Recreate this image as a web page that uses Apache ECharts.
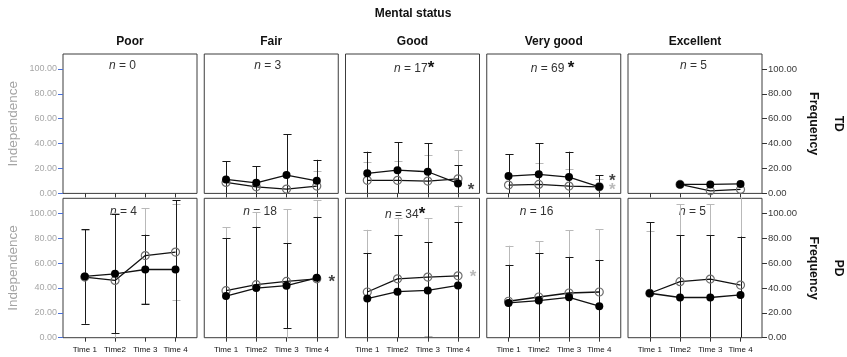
<!DOCTYPE html>
<html>
<head>
<meta charset="utf-8">
<script src="https://cdn.jsdelivr.net/npm/echarts@6/dist/echarts.min.js"></script>
<style>
  html, body { margin: 0; padding: 0; background: #fff; }
  #chart { width: 847px; height: 357px; }
</style>
</head>
<body>
<div id="chart"></div>
<script>
// ---- data ----
const statuses = ['Poor', 'Fair', 'Good', 'Very good', 'Excellent'];
const groups = ['TD', 'PD'];
const timeLabels = ['Time 1', 'Time2', 'Time 3', 'Time 4'];
const yTicks = [0, 20, 40, 60, 80, 100];

const tdCounts = [0, 3, 17, 69, 5];
const pdCounts = [4, 18, 34, 16, 5];
const tdCountStar = [false, false, true, true, false];
const pdCountStar = [false, false, true, false, false];

// TD group: means and error half-widths per mental status, Time 1..4
const tdIndependence = [
  [null, null, null, null],
  [8.8, 5.3, 3.5, 5.9],
  [10.5, 10.5, 9.9, 11.7],
  [6.7, 7.2, 5.9, 5.3],
  [null, 7.2, 2.1, 3.2]
];
const tdIndependenceErr = [
  [null, null, null, null],
  [17.2, 16.4, 44.2, 12.3],
  [14.7, 15.7, 20.7, 23.1],
  [24.7, 16.9, 13.4, 6.2],
  [null, null, null, null]
];
const tdFrequency = [
  [null, null, null, null],
  [11.2, 8.5, 14.7, 10.1],
  [16.1, 18.7, 17.4, 8.0],
  [13.9, 15.3, 13.1, 5.3],
  [null, 7.2, 7.2, 7.6]
];
const tdFrequencyErr = [
  [null, null, null, null],
  [14.8, 13.2, 33.0, 16.9],
  [17.4, 22.6, 23.1, 14.8],
  [17.5, 24.9, 20.4, 9.4],
  [null, null, null, null]
];

// PD group
const pdIndependence = [
  [48.7, 46.0, 66.0, 68.8],
  [37.8, 42.6, 45.2, 47.3],
  [36.7, 47.3, 48.7, 49.7],
  [29.3, 32.7, 35.9, 36.7],
  [35.7, 45.0, 47.1, 42.3]
];
const pdIndependenceErr = [
  [37.5, 54.0, 38.0, 38.8],
  [50.8, 58.4, 58.0, 63.1],
  [50.0, 49.2, 47.3, 56.4],
  [44.6, 44.7, 50.3, 50.3],
  [50.3, 62.1, 60.0, 70.0]
];
const pdFrequency = [
  [49.2, 51.3, 54.8, 54.8],
  [33.5, 39.9, 41.8, 48.1],
  [31.4, 37.0, 38.0, 42.0],
  [27.9, 29.8, 32.4, 25.3],
  [35.7, 32.3, 32.3, 34.4]
];
const pdFrequencyErr = [
  [38.0, 47.8, 28.0, 55.8],
  [46.6, 49.2, 34.2, 49.0],
  [36.7, 45.2, 38.6, 50.8],
  [30.6, 38.0, 32.5, 37.2],
  [56.9, 50.2, 50.2, 46.8]
];

// significance markers next to Time 4 (level on the value axis)
const tdFrequencyStar = [null, null, 6, 13, null];
const tdIndependenceStar = [null, null, null, 5.5, null];
const pdFrequencyStar = [null, 48, null, null, null];
const pdIndependenceStar = [null, null, 52, null, null];

// ---- layout ----
const FONT = 'Arial, "Liberation Sans", sans-serif';
const GRID_LEFT = 63, GRID_PITCH = 141.25, GRID_W = 134, GRID_H = 139.4;
const ROW_TOP = [54, 198.3];
const Y_MAX = 112;
const X_MIN = -0.72, X_MAX = 3.71;
const COUNT_X = [[46, 50, 48.5, 44, 52], [47, 39, 39.5, 33, 51]];
const COUNT_Y = [66, 212];
const STAR_DX = [13, 15];

const rows = [
  { ind: tdIndependence, indErr: tdIndependenceErr, frq: tdFrequency, frqErr: tdFrequencyErr,
    counts: tdCounts, countStar: tdCountStar, frqStar: tdFrequencyStar, indStar: tdIndependenceStar },
  { ind: pdIndependence, indErr: pdIndependenceErr, frq: pdFrequency, frqErr: pdFrequencyErr,
    counts: pdCounts, countStar: pdCountStar, frqStar: pdFrequencyStar, indStar: pdIndependenceStar }
];

const GRAY_BAR = '#b9b9b9';
const BLACK_BAR = '#1a1a1a';

function errorData(means, errs) {
  const out = [];
  means.forEach((m, t) => {
    if (m != null && errs[t] != null) out.push([t, m - errs[t], m + errs[t]]);
  });
  return out;
}
function lineData(means) {
  const out = [];
  means.forEach((m, t) => { if (m != null) out.push([t, m]); });
  return out;
}

function errorBarRenderer(color) {
  return function (params, api) {
    const x = api.value(0), lo = api.value(1), hi = api.value(2);
    const cs = params.coordSys;
    const top = cs.y, bottom = cs.y + cs.height;
    const pHi = api.coord([x, hi]);
    const pLo = api.coord([x, lo]);
    const px = Math.round(pHi[0]) + 0.5;
    const y1 = Math.max(pHi[1], top), y2 = Math.min(pLo[1], bottom);
    const style = { stroke: color, lineWidth: 1 };
    const children = [{ type: 'line', shape: { x1: px, y1: y1, x2: px, y2: y2 }, style: style }];
    const half = 4;
    if (pHi[1] >= top) {
      const cy = Math.round(pHi[1]) + 0.5;
      children.push({ type: 'line', shape: { x1: px - half, y1: cy, x2: px + half, y2: cy }, style: style });
    }
    if (pLo[1] <= bottom) {
      const cy = Math.round(pLo[1]) + 0.5;
      children.push({ type: 'line', shape: { x1: px - half, y1: cy, x2: px + half, y2: cy }, style: style });
    }
    return { type: 'group', children: children };
  };
}

const grids = [], xAxes = [], yAxes = [], series = [], graphics = [];

rows.forEach((row, r) => {
  statuses.forEach((status, c) => {
    const idx = r * statuses.length + c;
    const left = GRID_LEFT + c * GRID_PITCH;
    grids.push({
      left: left, top: ROW_TOP[r], width: GRID_W, height: GRID_H,
      show: true, borderColor: '#3c3c3c', borderWidth: 1, backgroundColor: '#fff',
      containLabel: false, outerBoundsMode: 'none'
    });
    xAxes.push({
      type: 'value', gridIndex: idx, min: X_MIN, max: X_MAX, position: 'bottom',
      axisLine: { show: false, onZero: false }, splitLine: { show: false },
      axisTick: { show: true, customValues: [0, 1, 2, 3], length: 4, lineStyle: { color: '#333' } },
      axisLabel: {
        show: r === 1, customValues: [0, 1, 2, 3], margin: 8,
        formatter: v => timeLabels[Math.round(v)],
        color: '#111', fontSize: 8, fontFamily: FONT
      }
    });
    const isLeft = c === 0, isRight = c === statuses.length - 1;
    yAxes.push({
      type: 'value', gridIndex: idx, min: 0, max: Y_MAX,
      position: isRight ? 'right' : 'left',
      axisLine: { show: false, onZero: false }, splitLine: { show: false },
      axisTick: {
        show: isLeft || isRight, customValues: yTicks, length: 5,
        lineStyle: { color: isLeft ? '#4a6fd6' : '#333' }
      },
      axisLabel: {
        show: isLeft || isRight, customValues: yTicks, margin: 6,
        formatter: v => v.toFixed(2),
        color: isLeft ? '#a6a6a6' : '#3a3a3a', fontSize: isLeft ? 9 : 9.5, fontFamily: FONT
      }
    });

    series.push({
      type: 'custom', name: 'Independence', xAxisIndex: idx, yAxisIndex: idx, z: 2,
      renderItem: errorBarRenderer(GRAY_BAR), data: errorData(row.ind[c], row.indErr[c]),
      silent: true
    });
    series.push({
      type: 'custom', name: 'Frequency', xAxisIndex: idx, yAxisIndex: idx, z: 3,
      renderItem: errorBarRenderer(BLACK_BAR), data: errorData(row.frq[c], row.frqErr[c]),
      silent: true
    });
    series.push({
      type: 'line', name: 'Independence', xAxisIndex: idx, yAxisIndex: idx, z: 4,
      data: lineData(row.ind[c]), symbol: 'circle', symbolSize: 8,
      lineStyle: { color: '#111', width: 1.3 },
      itemStyle: { color: 'rgba(255,255,255,0)', borderColor: '#6e6e6e', borderWidth: 1.2 },
      animation: false, silent: true
    });
    series.push({
      type: 'line', name: 'Frequency', xAxisIndex: idx, yAxisIndex: idx, z: 5,
      data: lineData(row.frq[c]), symbol: 'circle', symbolSize: 8,
      lineStyle: { color: '#111', width: 1.3 },
      itemStyle: { color: '#000', borderColor: '#000', borderWidth: 0 },
      animation: false, silent: true
    });
    [[row.frqStar[c], '#111'], [row.indStar[c], '#a8a8a8']].forEach(([lvl, col]) => {
      if (lvl == null) return;
      series.push({
        type: 'scatter', xAxisIndex: idx, yAxisIndex: idx, z: 6, silent: true,
        data: [[3, lvl]], symbolSize: 1, itemStyle: { color: 'rgba(0,0,0,0)' },
        label: {
          show: true, position: 'inside', formatter: '*', offset: [STAR_DX[r], 4],
          color: col, fontSize: 17, fontWeight: 'bold', fontFamily: FONT
        }
      });
    });

    // "n = ..." label
    graphics.push({
      type: 'text', left: left + COUNT_X[r][c], top: COUNT_Y[r] - 6, silent: true,
      style: {
        text: '{i|n} = ' + row.counts[c] + (row.countStar[c] ? (c === 3 ? ' ' : '') + '{s|*}' : ''),
        fill: '#333', font: '12px ' + FONT,
        rich: {
          i: { fontStyle: 'italic', fontSize: 12, fontFamily: FONT, fill: '#333' },
          s: { fontSize: 17, fontWeight: 'bold', fontFamily: FONT, fill: '#111' }
        }
      }
    });
  });
});

// titles and side labels
graphics.push({
  type: 'text', x: 413, y: 14, silent: true,
  style: { text: 'Mental status', textAlign: 'center', textVerticalAlign: 'middle',
    font: 'bold 12px ' + FONT, fill: '#111' }
});
statuses.forEach((s, c) => {
  graphics.push({
    type: 'text', x: GRID_LEFT + c * GRID_PITCH + GRID_W / 2, y: 42, silent: true,
    style: { text: s, textAlign: 'center', textVerticalAlign: 'middle',
      font: 'bold 12px ' + FONT, fill: '#111' }
  });
});
groups.forEach((g, r) => {
  const cy = ROW_TOP[r] + GRID_H / 2;
  graphics.push({
    type: 'text', x: 13, y: cy, rotation: Math.PI / 2, silent: true,
    style: { text: 'Independence', textAlign: 'center', textVerticalAlign: 'middle',
      font: '13.5px ' + FONT, fill: '#a3a3a3' }
  });
  graphics.push({
    type: 'text', x: 813, y: cy, rotation: -Math.PI / 2, silent: true,
    style: { text: 'Frequency', textAlign: 'center', textVerticalAlign: 'middle',
      font: 'bold 12.5px ' + FONT, fill: '#111' }
  });
  graphics.push({
    type: 'text', x: 838.5, y: cy, rotation: -Math.PI / 2, silent: true,
    style: { text: g, textAlign: 'center', textVerticalAlign: 'middle',
      font: 'bold 12px ' + FONT, fill: '#111' }
  });
});

const chart = echarts.init(document.getElementById('chart'), null, { renderer: 'canvas' });
chart.setOption({
  animation: false,
  backgroundColor: '#fff',
  grid: grids,
  xAxis: xAxes,
  yAxis: yAxes,
  series: series,
  graphic: graphics
});
</script>
</body>
</html>
